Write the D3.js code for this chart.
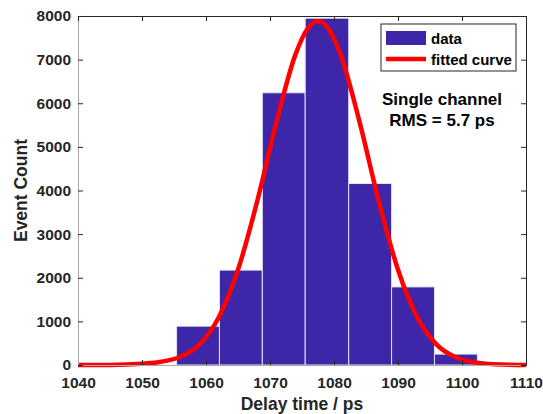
<!DOCTYPE html>
<html>
<head>
<meta charset="utf-8">
<script src="https://cdn.jsdelivr.net/npm/d3@7"></script>
<style>
  body { margin: 0; background: #fff; }
  text { font-family: "Liberation Sans", Arial, sans-serif; font-weight: bold; fill: #262626; }
</style>
</head>
<body>
<div class="canvas"></div>
<script>
// histogram bins (ps) and counts
const binEdges = [1055.4, 1062.1, 1068.8, 1075.5, 1082.3, 1089.0, 1095.7, 1102.4];
const counts = [890, 2175, 6240, 7950, 4160, 1790, 250];

// fitted curve
const fitX = [1040, 1045, 1050, 1053, 1056, 1059, 1062, 1065, 1068, 1071, 1074, 1076, 1077.5,
              1079, 1081, 1084, 1087, 1090, 1093, 1096, 1099, 1102, 1105, 1110];
const fitY = [0, 2, 30, 75, 190, 474, 1094, 2182, 3753, 5568, 7127, 7735, 7880,
              7735, 7127, 5568, 3753, 2182, 1094, 474, 176, 60, 18, 1];

const xTicks = [1040, 1050, 1060, 1070, 1080, 1090, 1100, 1110];
const yTicks = [0, 1000, 2000, 3000, 4000, 5000, 6000, 7000, 8000];

const legendLabels = ['data', 'fitted curve'];
const noteLines = ['Single channel', 'RMS = 5.7 ps'];

function drawChart() {
  const W = 543, H = 414;
  const margin = { top: 16, right: 17, bottom: 49, left: 78 };
  const graphWidth = W - margin.left - margin.right;
  const graphHeight = H - margin.top - margin.bottom;
  const barColor = '#3d26a8';

  const svg = d3.select('.canvas')
    .append('svg')
    .attr('width', W)
    .attr('height', H);

  const graph = svg.append('g')
    .attr('transform', `translate(${margin.left}, ${margin.top})`);

  const xScale = d3.scaleLinear().domain([1040, 1110]).range([0, graphWidth]);
  const yScale = d3.scaleLinear().domain([0, 8000]).range([graphHeight, 0]);

  // bars
  graph.selectAll('rect.bar')
    .data(counts)
    .enter().append('rect')
    .attr('class', 'bar')
    .attr('x', (d, i) => xScale(binEdges[i]))
    .attr('width', (d, i) => xScale(binEdges[i + 1]) - xScale(binEdges[i]))
    .attr('y', d => yScale(d))
    .attr('height', d => yScale(0) - yScale(d))
    .attr('fill', barColor)
    .attr('stroke', '#e4e2f2')
    .attr('stroke-width', 1);

  // fitted curve
  const line = d3.line()
    .x((d, i) => xScale(fitX[i]))
    .y(d => yScale(d))
    .curve(d3.curveMonotoneX);

  graph.append('path')
    .datum(fitY)
    .attr('d', line)
    .attr('fill', 'none')
    .attr('stroke', '#ff0000')
    .attr('stroke-width', 4.5);

  // axes (ticks inside, box on)
  const tickLen = 5;
  const xAxis = graph.append('g')
    .attr('transform', `translate(0, ${graphHeight})`)
    .call(d3.axisBottom(xScale).tickValues(xTicks).tickSize(-tickLen).tickPadding(12).tickFormat(d3.format('d')));
  const yAxis = graph.append('g')
    .call(d3.axisLeft(yScale).tickValues(yTicks).tickSize(-tickLen).tickPadding(7).tickFormat(d3.format('d')));
  const xTop = graph.append('g')
    .call(d3.axisTop(xScale).tickValues(xTicks).tickSize(-tickLen).tickFormat(''));
  const yRight = graph.append('g')
    .attr('transform', `translate(${graphWidth}, 0)`)
    .call(d3.axisRight(yScale).tickValues(yTicks).tickSize(-tickLen).tickFormat(''));

  [xAxis, yAxis].forEach(a => {
    a.select('.domain').attr('stroke', '#a8a8a8');
    a.selectAll('.tick line').attr('stroke', '#262626');
    a.selectAll('.tick text').style('font-size', '15.5px').attr('fill', '#262626');
  });
  [xTop, yRight].forEach(a => {
    a.select('.domain').attr('stroke', '#262626');
    a.selectAll('.tick line').attr('stroke', '#262626');
  });

  // axis labels
  svg.append('text')
    .attr('x', margin.left + graphWidth / 2)
    .attr('y', 410)
    .attr('text-anchor', 'middle')
    .style('font-size', '17.5px')
    .text('Delay time / ps');

  svg.append('text')
    .attr('transform', `translate(27, ${margin.top + graphHeight / 2}) rotate(-90)`)
    .attr('text-anchor', 'middle')
    .style('font-size', '17.5px')
    .text('Event Count');

  // legend
  const legend = svg.append('g');
  legend.append('rect')
    .attr('x', 381).attr('y', 24)
    .attr('width', 135).attr('height', 47)
    .attr('fill', '#fff')
    .attr('stroke', '#262626')
    .attr('stroke-width', 1);
  legend.append('rect')
    .attr('x', 386).attr('y', 31)
    .attr('width', 40).attr('height', 14)
    .attr('fill', barColor);
  legend.append('line')
    .attr('x1', 386).attr('x2', 426)
    .attr('y1', 59).attr('y2', 59)
    .attr('stroke', '#ff0000')
    .attr('stroke-width', 4.5);
  legend.selectAll('text.leg')
    .data(legendLabels)
    .enter().append('text')
    .attr('class', 'leg')
    .attr('x', 431)
    .attr('y', (d, i) => 44 + i * 20.5)
    .style('font-size', '15px')
    .style('fill', '#000')
    .text(d => d);

  // annotation
  svg.selectAll('text.note')
    .data(noteLines)
    .enter().append('text')
    .attr('class', 'note')
    .attr('x', 442)
    .attr('y', (d, i) => 105 + i * 20.5)
    .attr('text-anchor', 'middle')
    .style('font-size', '17px')
    .style('fill', '#000')
    .text(d => d);
}

drawChart();
</script>
</body>
</html>
